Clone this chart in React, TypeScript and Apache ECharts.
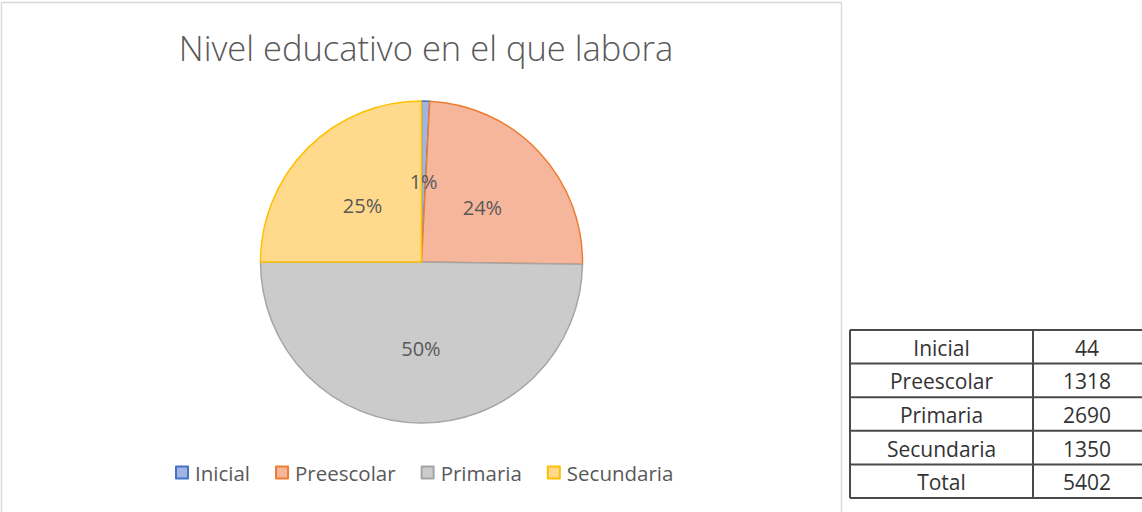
import React, { useEffect, useRef } from "react";
import * as echarts from "echarts";

const categories = ["Inicial", "Preescolar", "Primaria", "Secundaria"];
const values = [44, 1318, 2690, 1350];
const totalLabel = "Total";
const fills = ["#A2B4E0", "#F6B69B", "#CBCBCB", "#FFD98C"];
const borders = ["#4472C4", "#ED7D31", "#A5A5A5", "#FFC000"];

export default function App() {
  const ref = useRef<HTMLDivElement>(null);
  useEffect(() => {
    document.body.style.margin = "0";
    const chart = echarts.init(ref.current!, null, { renderer: "svg" });
    const total = values.reduce((a, b) => a + b, 0);
    const font = "Open Sans";
    const txt = "#595959";

    const tx0 = 850, tx1 = 1033, tx2 = 1146, ty0 = 330, rowH = 33.6;
    const rows = [...categories.map((c, i) => [c, String(values[i])]), [totalLabel, String(total)]];
    const tableEls: any[] = [];
    rows.forEach((r, i) => {
      const y = ty0 + i * rowH;
      tableEls.push({
        type: "text", x: (tx0 + tx1) / 2, y: y + rowH / 2 + 1,
        style: { text: r[0], fill: "#333333", font: `21px ${font}`, textAlign: "center", textVerticalAlign: "middle" },
      });
      tableEls.push({
        type: "text", x: 1087, y: y + rowH / 2 + 1,
        style: { text: r[1], fill: "#333333", font: `21px ${font}`, textAlign: "center", textVerticalAlign: "middle" },
      });
    });
    for (let i = 0; i <= rows.length; i++) {
      const y = ty0 + i * rowH;
      tableEls.push({ type: "line", shape: { x1: tx0, y1: y, x2: tx2, y2: y }, style: { stroke: "#4a4a4a", lineWidth: 2 } });
    }
    [tx0, tx1, tx2].forEach((x) => {
      tableEls.push({ type: "line", shape: { x1: x, y1: ty0, x2: x, y2: ty0 + rows.length * rowH }, style: { stroke: "#4a4a4a", lineWidth: 2 } });
    });

    chart.setOption({
      animation: false,
      backgroundColor: "#ffffff",
      title: {
        text: "Nivel educativo en el que labora",
        left: 421, top: 25, textAlign: "center",
        textStyle: { fontFamily: font, fontWeight: 300, fontSize: 34.5, color: txt },
      },
      legend: {
        bottom: 24,
        left: 170,
        data: categories,
        itemWidth: 12, itemHeight: 12, itemGap: 25,
        icon: "rect",
        textStyle: { fontFamily: font, fontSize: 20.5, color: txt, padding: [0, 0, 0, 2] },
      },
      graphic: [
        { type: "rect", shape: { x: 1.5, y: 2.5, width: 840, height: 520 }, style: { fill: "none", stroke: "#D9D9D9", lineWidth: 1.5 }, silent: true },
        ...tableEls,
      ],
      series: [
        {
          type: "pie",
          center: [421.5, 262],
          radius: 161,
          startAngle: 90,
          clockwise: true,
          label: {
            position: "inside",
            formatter: (p: any) => Math.round(p.percent) + "%",
            fontFamily: font, fontSize: 20, color: txt,
            offset: [0, 3],
          },
          labelLine: { show: false },
          emphasis: { disabled: true },
          data: categories.map((c, i) => ({
            name: c, value: values[i],
            itemStyle: { color: fills[i], borderColor: borders[i], borderWidth: 1.5 },
          })),
        },
      ],
    });
    return () => chart.dispose();
  }, []);
  return <div ref={ref} style={{ position: "absolute", left: 0, top: 0, width: 1142, height: 512 }} />;
}
